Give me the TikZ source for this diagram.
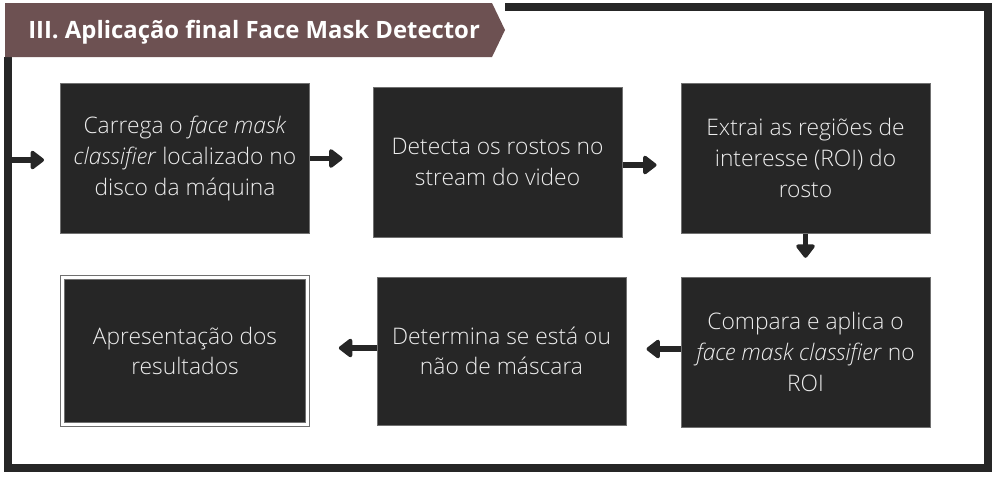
\documentclass[tikz,border=0pt]{standalone}
\usepackage{fontspec}
\setmainfont{Open Sans}
\newfontfamily\lightfont{Open Sans Light}[ItalicFont={Open Sans Light Italic}]
\usetikzlibrary{arrows.meta}

\definecolor{boxgray}{HTML}{262626}
\definecolor{bannerbrown}{HTML}{6D5152}
\definecolor{edgegray}{HTML}{707070}
\definecolor{textgray}{HTML}{EDEDED}

\tikzset{
  stepbox/.style={fill=boxgray, draw=edgegray, line width=0.75pt,
    minimum width=186.75pt, minimum height=112.5pt, inner sep=0pt,
    align=center, text=textgray, font=\lightfont\fontsize{17.1}{23}\selectfont},
  endbox/.style={stepbox, double=white, double distance=1.8pt, line width=0.8pt},
  flow/.style={line width=3.8pt, draw=boxgray, line cap=butt,
    -{Triangle[length=11pt,width=16pt,round]}},
}

\begin{document}
\begin{tikzpicture}[x=0.75pt, y=-0.75pt]
            \useasboundingbox (0,0) rectangle (994,476);

            % Outer frame
            \draw[line width=6pt, boxgray] (505,7) -- (987.5,7) -- (987.5,468) -- (8,468) -- (8,57);

            % Title banner
            \fill[bannerbrown] (5,3) -- (492,3) -- (505,30) -- (492,57) -- (5,57) -- cycle;
            \node[anchor=west, inner sep=0pt, text=white, font=\bfseries\fontsize{17.9}{20}\selectfont] (title) at (28,32.5) {III. Aplicação final Face Mask Detector};

            % First row
            \node[stepbox] (carrega) at (185,158.5) {Carrega o \textit{face mask}\\\textit{classifier} localizado no\\disco da máquina};
            \node[stepbox] (detecta) at (497.5,162) {Detecta os rostos no\\stream do video};
            \node[stepbox] (extrai) at (805.5,158) {Extrai as regiões de\\interesse (ROI) do\\rosto};

            % Second row
            \node[stepbox] (compara) at (805.5,352) {Compara e aplica o\\\textit{face mask classifier} no\\ROI};
            \node[stepbox, minimum height=111pt] (determina) at (501.5,351) {Determina se está ou\\não de máscara};
            \node[endbox, minimum width=184pt, minimum height=110pt] (resultados) at (185,351) {Apresentação dos\\resultados};

            % Arrows
            \coordinate (entry) at (8,160);
            \draw[flow, shorten >=12pt] (entry) -- (entry -| carrega.west);
            \draw[flow, shorten >=22.5pt] (carrega.east) -- (carrega.east -| detecta.west);
            \draw[flow, shorten >=18pt] (detecta.east) ++(0,3) coordinate (d2) -- (d2 -| extrai.west);
            \draw[flow, shorten >=14pt] (extrai.south) -- (extrai.south |- compara.north);
            \draw[flow, shorten >=15pt] (compara.west) ++(0,-3) coordinate (c2) -- (c2 -| determina.east);
            \draw[flow, shorten >=23pt] (determina.west) ++(0,-3) coordinate (e2) -- (e2 -| resultados.east);
\end{tikzpicture}
\end{document}
